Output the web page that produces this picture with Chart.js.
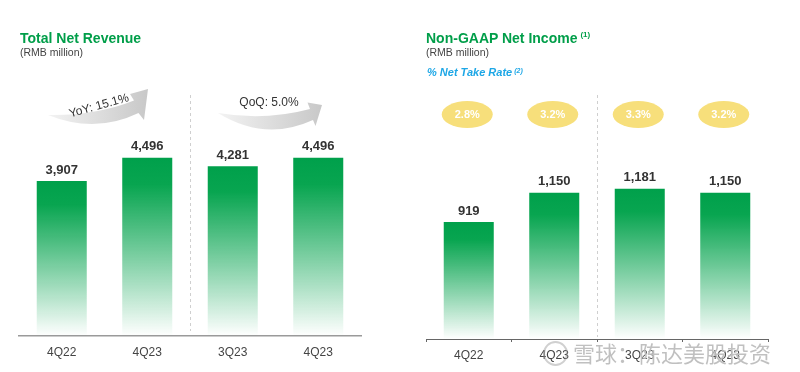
<!DOCTYPE html>
<html>
<head>
<meta charset="utf-8">
<script src="https://cdn.jsdelivr.net/npm/chart.js@4.4.1/dist/chart.umd.min.js"></script>
<style>
  body { margin: 0; background: #fff; }
  #wrap { position: relative; width: 800px; height: 372px; overflow: hidden; font-family: 'Liberation Sans', Arial, sans-serif; }
  canvas { position: absolute; top: 0; }
  .title { position: absolute; font-size: 14px; line-height: 14px; font-weight: bold; color: #009e49; white-space: nowrap; }
  .unit { position: absolute; font-size: 10.5px; line-height: 12px; color: #444; white-space: nowrap; }
  .rate { position: absolute; font-size: 11px; line-height: 13px; font-weight: bold; font-style: italic; color: #1ea7e6; white-space: nowrap; }
  .sup { font-size: 8px; position: relative; top: -6px; margin-left: 3px; }
  .mark { position: absolute; left: 573px; top: 340px; font-family: 'Noto Sans CJK SC', sans-serif; font-size: 22px; line-height: 24px; color: rgba(130,130,130,0.5); text-shadow: 0 0 1px #fff; white-space: nowrap; }
  .logo { position: absolute; left: 543px; top: 341px; width: 21px; height: 21px; border-radius: 50%; border: 2px solid rgba(150,150,150,0.45); }
</style>
</head>
<body>
<div id="wrap">
  <canvas id="rev" width="400" height="372" style="left:0"></canvas>
  <canvas id="inc" width="400" height="372" style="left:400px"></canvas>
  <div class="title" style="left:20px; top:30.5px">Total Net Revenue</div>
  <div class="unit" style="left:20px; top:45.5px">(RMB million)</div>
  <div class="title" style="left:426px; top:30.5px">Non-GAAP Net Income<span class="sup">(1)</span></div>
  <div class="unit" style="left:426px; top:45.5px">(RMB million)</div>
  <div class="rate" style="left:427px; top:66px">% Net Take Rate<span class="sup" style="font-size:7px;top:-3px;margin-left:2px">(2)</span></div>
  <div class="logo"></div>
  <div class="mark">雪球：陈达美股投资</div>
</div>
<script>
const quarters = ['4Q22', '4Q23', '3Q23', '4Q23'];
const revenue = [3907, 4496, 4281, 4496];
const netIncome = [919, 1150, 1181, 1150];
const takeRate = ['2.8%', '3.2%', '3.3%', '3.2%'];
const growthNotes = ['YoY: 15.1%', 'QoQ: 5.0%'];

Chart.defaults.font.family = "'Liberation Sans', Arial, sans-serif";

function barFill(c) {
    const chart = c.chart;
    const area = chart.chartArea;
    if (!area || c.type !== 'data') return '#00a04b';
    const top = chart.scales.y.getPixelForValue(c.raw);
    const g = chart.ctx.createLinearGradient(0, top, 0, area.bottom);
    g.addColorStop(0, 'rgb(0,160,75)');
    g.addColorStop(0.15, 'rgb(8,165,80)');
    g.addColorStop(1, 'rgba(0,160,75,0)');
    return g;
}

// value labels above each bar
const valueLabels = {
    id: 'valueLabels',
    afterDatasetsDraw(chart) {
        const ctx = chart.ctx;
        const meta = chart.getDatasetMeta(0);
        ctx.save();
        ctx.font = "bold 13px 'Liberation Sans', Arial, sans-serif";
        ctx.fillStyle = '#333';
        ctx.textAlign = 'center';
        ctx.textBaseline = 'middle';
        meta.data.forEach((bar, i) => {
            const v = chart.data.datasets[0].data[i];
            ctx.fillText(v.toLocaleString('en-US'), bar.x, bar.y - 11);
        });
        ctx.restore();
    }
};

function midBetween(chart, a, b) {
    const x = chart.scales.x;
    return (x.getPixelForValue(a) + x.getPixelForValue(b)) / 2;
}

function dashedSplit(chart, yTop, yBottom) {
    const ctx = chart.ctx;
    const x = Math.round(midBetween(chart, 1, 2)) + 0.5;
    ctx.save();
    ctx.strokeStyle = '#cfcfcf';
    ctx.lineWidth = 1;
    ctx.setLineDash([3, 3]);
    ctx.beginPath();
    ctx.moveTo(x, yTop);
    ctx.lineTo(x, yBottom);
    ctx.stroke();
    ctx.restore();
}

// curved growth arrow, points are [dx from pair middle, y]
function curvedArrow(ctx, mx, p) {
    const P = k => [mx + p[k][0], p[k][1]];
    const g = ctx.createLinearGradient(mx + p.tail[0], 0, mx + p.tip[0], 0);
    g.addColorStop(0, '#f3f3f3');
    g.addColorStop(1, '#c8c8c8');
    ctx.save();
    ctx.fillStyle = g;
    ctx.beginPath();
    ctx.moveTo(...P('tail'));
    ctx.quadraticCurveTo(...P('lowCtrl'), ...P('lowIn'));
    ctx.lineTo(...P('lowBarb'));
    ctx.lineTo(...P('tip'));
    ctx.lineTo(...P('upBarb'));
    ctx.lineTo(...P('upIn'));
    ctx.quadraticCurveTo(...P('upCtrl'), ...P('tail'));
    ctx.closePath();
    ctx.fill();
    ctx.restore();
}

const yoyArrow = {
    tail: [-56.5, 115], lowCtrl: [-9.5, 134], lowIn: [34, 113], lowBarb: [39.5, 120],
    tip: [43.5, 89], upBarb: [25.5, 94], upIn: [29.5, 100.5], upCtrl: [-9.5, 116]
};
const qoqArrow = {
    tail: [-57.5, 113], lowCtrl: [-10.5, 142], lowIn: [37.5, 120], lowBarb: [40, 126],
    tip: [46.5, 105], upBarb: [32, 102.5], upIn: [34.5, 109], upCtrl: [-10.5, 121]
};

const revenueDecor = {
    id: 'revenueDecor',
    afterDraw(chart) {
        const ctx = chart.ctx;
        dashedSplit(chart, 95, chart.chartArea.bottom - 5);
        const m1 = midBetween(chart, 0, 1);
        const m2 = midBetween(chart, 2, 3);
        curvedArrow(ctx, m1, yoyArrow);
        curvedArrow(ctx, m2, qoqArrow);
        ctx.save();
        ctx.font = "12px 'Liberation Sans', Arial, sans-serif";
        ctx.fillStyle = '#333';
        ctx.textAlign = 'center';
        ctx.textBaseline = 'middle';
        ctx.translate(m1 - 5.5, 106);
        ctx.rotate(-15.5 * Math.PI / 180);
        ctx.fillText(growthNotes[0], 0, 0);
        ctx.restore();
        ctx.save();
        ctx.font = "12px 'Liberation Sans', Arial, sans-serif";
        ctx.fillStyle = '#333';
        ctx.textAlign = 'center';
        ctx.textBaseline = 'middle';
        ctx.fillText(growthNotes[1], m2 - 6.5, 103);
        ctx.restore();
    }
};

const incomeDecor = {
    id: 'incomeDecor',
    afterDraw(chart) {
        const ctx = chart.ctx;
        dashedSplit(chart, 95, chart.chartArea.bottom - 2);
        const xs = chart.scales.x;
        ctx.save();
        takeRate.forEach((t, i) => {
            const x = xs.getPixelForValue(i) - 1.5;
            ctx.fillStyle = '#f7df7b';
            ctx.beginPath();
            ctx.ellipse(x, 114.5, 25.5, 13.5, 0, 0, Math.PI * 2);
            ctx.fill();
            ctx.font = "bold 11px 'Liberation Sans', Arial, sans-serif";
            ctx.fillStyle = '#fff';
            ctx.textAlign = 'center';
            ctx.textBaseline = 'middle';
            ctx.fillText(t, x, 115);
        });
        ctx.restore();
    }
};

function barChart(id, values, yMax, top, axisHeight, left, right, xOpts, extra) {
    return new Chart(document.getElementById(id), {
        type: 'bar',
        data: {
            labels: quarters,
            datasets: [{
                data: values,
                backgroundColor: barFill,
                borderWidth: 0,
                barPercentage: 0.585,
                categoryPercentage: 1
            }]
        },
        options: {
            responsive: false,
            animation: false,
            layout: { padding: { top: top, left: left, right: right, bottom: 0 } },
            plugins: { legend: { display: false }, tooltip: { enabled: false } },
            scales: {
                x: Object.assign({
                    afterFit: s => { s.height = axisHeight; },
                    ticks: { color: '#444', font: { size: 12 }, padding: 9 }
                }, xOpts),
                y: { display: false, min: 0, max: yMax }
            }
        },
        plugins: [valueLabels, extra]
    });
}

barChart('rev', revenue, 6000, 98, 36, 19, 39, {
    grid: { display: false, drawTicks: false },
    border: { display: true, color: '#9a9a9a', width: 1.5 }
}, revenueDecor);

barChart('inc', netIncome, 2000, 84.5, 33, 26, 32, {
    grid: { display: true, drawOnChartArea: false, drawTicks: true, tickLength: 3, color: '#666', offset: true },
    border: { display: true, color: '#666', width: 1 },
    ticks: { color: '#444', font: { size: 12 }, padding: 6 }
}, incomeDecor);
</script>
</body>
</html>
